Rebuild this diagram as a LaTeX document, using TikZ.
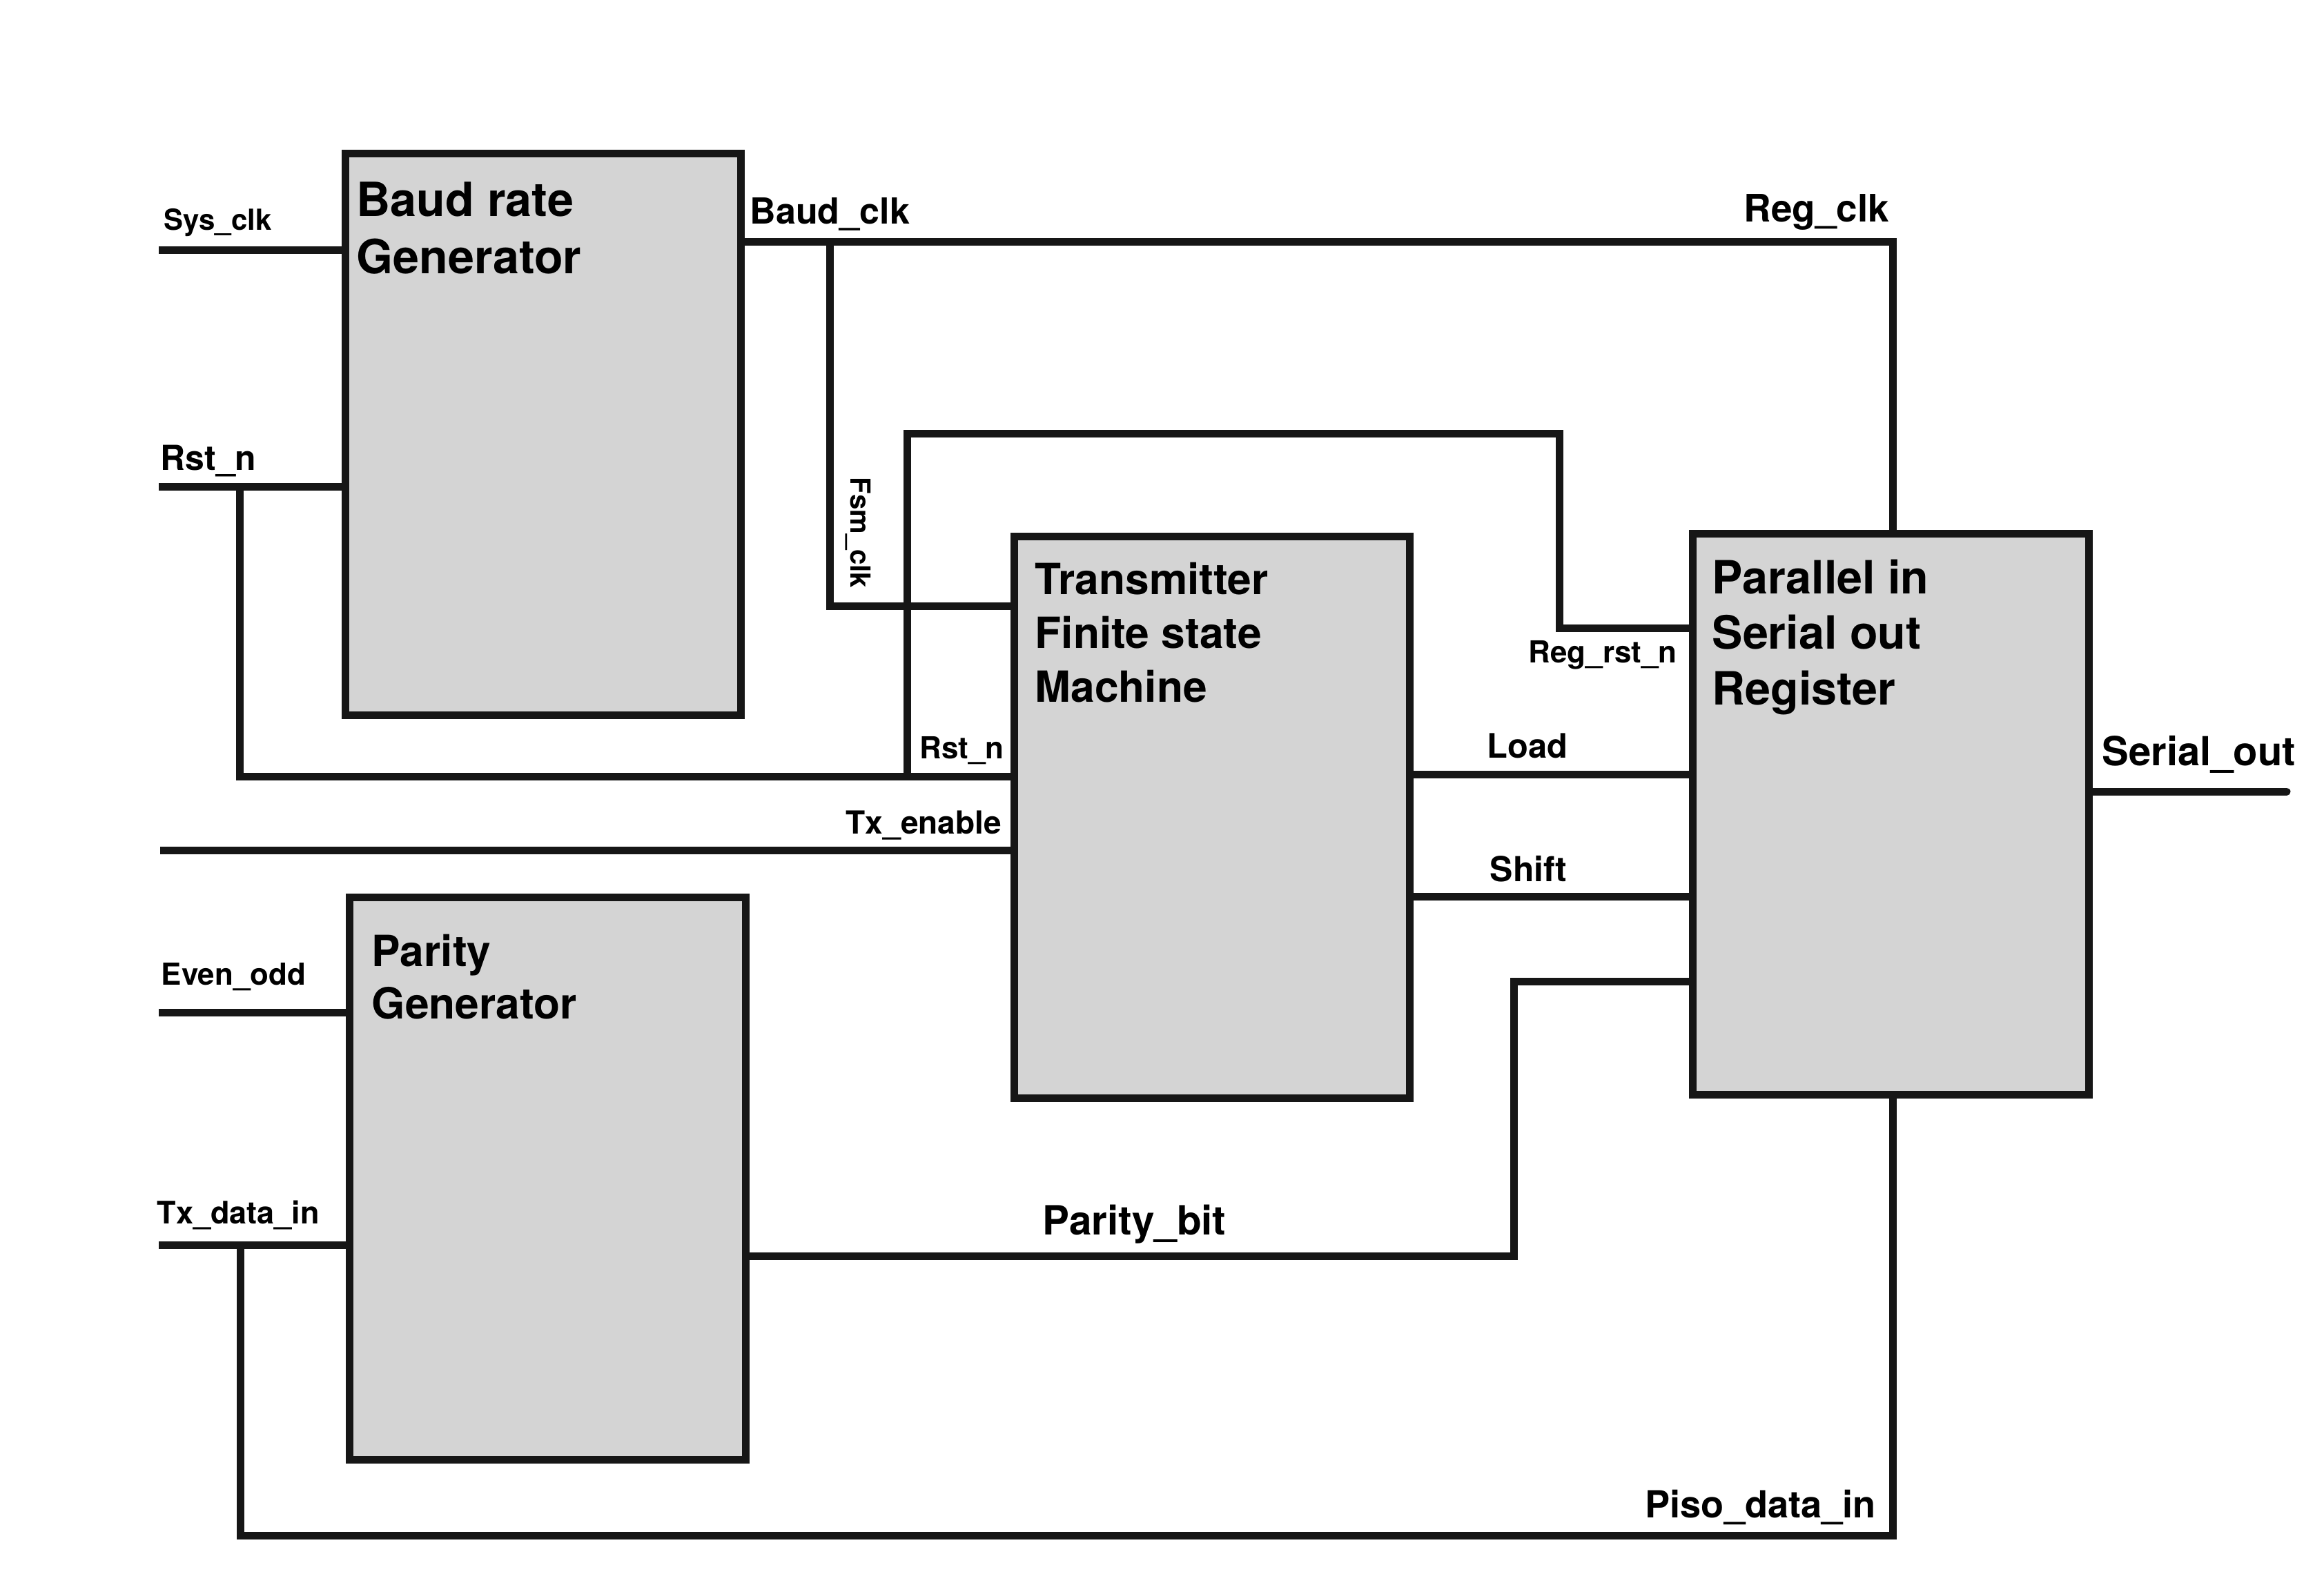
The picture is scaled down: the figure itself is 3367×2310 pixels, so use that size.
\documentclass[tikz,border=0pt]{standalone}
\usepackage{fontspec}
\setmainfont{TeX Gyre Heros}
\definecolor{boxgray}{HTML}{D4D4D4}
\definecolor{ink}{HTML}{161616}
\begin{document}
\begin{tikzpicture}[x=0.1mm,y=-0.1mm,
  wire/.style={draw=ink, line width=1.1mm},
  block/.style={draw=ink, fill=boxgray, line width=1.1mm, inner sep=0pt, rectangle},
  lbl/.style={anchor=base west, inner sep=0pt, text=black, font=\bfseries\fontsize{#1pt}{#1pt}\selectfont},
  ttl/.style 2 args={anchor=base west, inner sep=0pt, text=black, font=\bfseries\fontsize{#1pt}{#2pt}\selectfont}]
\useasboundingbox (0,0) rectangle (3367,2310);

% blocks
\node[block, minimum width=57.3mm, minimum height=81.4mm] (baud) at (786.5,629) {};
\node[block, minimum width=57.4mm, minimum height=81.5mm] (parity) at (793,1707.5) {};
\node[block, minimum width=57.3mm, minimum height=81.4mm] (fsm) at (1755.5,1184) {};
\node[block, minimum width=57.4mm, minimum height=81.3mm] (piso) at (2739,1179.5) {};

% titles
\node[ttl={19.4}{23.8}] (baudT) at (516,313) {\begin{tabular}[t]{@{}l@{}}Baud rate\\Generator\end{tabular}};
\node[ttl={17.7}{21.9}] (parityT) at (538,1400) {\begin{tabular}[t]{@{}l@{}}Parity\\Generator\end{tabular}};
\node[ttl={17.7}{22.2}] (fsmT) at (1499,861) {\begin{tabular}[t]{@{}l@{}}Transmitter\\Finite state\\Machine\end{tabular}};
\node[ttl={18.9}{23}] (pisoT) at (2480,860) {\begin{tabular}[t]{@{}l@{}}Parallel in\\Serial out\\Register\end{tabular}};

% coordinates
\coordinate (sysIn) at (230,362);
\coordinate (rstIn) at (230,705);
\coordinate (rstJ) at (347,705);
\coordinate (rstK) at (1314,1125);
\coordinate (regrstA) at (2259,628);
\coordinate (regrstB) at (2259,910);
\coordinate (regclkC) at (2742,350);
\coordinate (fsmJ) at (1202,350);
\coordinate (fsmclkY) at (1469,878);
\coordinate (txenIn) at (232,1232);
\coordinate (loadY) at (2200,1122);
\coordinate (shiftY) at (2200,1299);
\coordinate (evenIn) at (230,1467);
\coordinate (txdIn) at (230,1804);
\coordinate (txdJ) at (348,1804);
\coordinate (pisoDataC) at (2742,2225);
\coordinate (pbC) at (2193,1820);
\coordinate (pbD) at (2193,1422);
\coordinate (soOut) at (3313,1147);

% wires
\draw[wire] (sysIn) -- (sysIn -| baud.west);
\draw[wire] (rstIn) -- (rstIn -| baud.west);
\draw[wire] (rstJ) |- (rstK -| fsm.west);
\draw[wire] (rstK) |- (regrstA) |- (regrstB -| piso.west);
\draw[wire] (regclkC -| baud.east) -- (regclkC) -- (regclkC |- piso.north);
\draw[wire] (fsmJ) |- (fsmclkY -| fsm.west);
\draw[wire] (txenIn) -- (txenIn -| fsm.west);
\draw[wire] (loadY -| fsm.east) -- (loadY -| piso.west);
\draw[wire] (shiftY -| fsm.east) -- (shiftY -| piso.west);
\draw[wire] (evenIn) -- (evenIn -| parity.west);
\draw[wire] (txdIn) -- (txdIn -| parity.west);
\draw[wire] (txdJ) |- (pisoDataC) -- (pisoDataC |- piso.south);
\draw[wire] (pbC -| parity.east) -- (pbC) -- (pbD) -- (pbD -| piso.west);
\draw[wire, line cap=round] (soOut -| piso.east) -- (soOut);

% labels
\node[lbl=11.95] (lSys) at (237,333) {Sys\_clk};
\node[lbl=14.2] (lRst) at (232,681) {Rst\_n};
\node[lbl=14.8] (lBaud) at (1086,324) {Baud\_clk};
\node[lbl=15.6] (lReg) at (2526,321) {Reg\_clk};
\node[anchor=center, inner sep=0pt, rotate=-90, font=\bfseries\fontsize{11.4pt}{11.4pt}\selectfont] (lFsm) at (1243,772) {Fsm\_clk};
\node[lbl=12.5] (lRst2) at (1332,1099) {Rst\_n};
\node[lbl=13.1] (lTxen) at (1225,1208) {Tx\_enable};
\node[lbl=12.5] (lRegrst) at (2214,960) {Reg\_rst\_n};
\node[lbl=13.9] (lLoad) at (2154,1098) {Load};
\node[lbl=14.2] (lShift) at (2158,1277) {Shift};
\node[lbl=16.5] (lSer) at (3045,1109) {Serial\_out};
\node[lbl=12.5] (lEven) at (233,1427) {Even\_odd};
\node[lbl=12.8] (lTxd) at (227,1773) {Tx\_data\_in};
\node[lbl=16.6] (lPb) at (1510,1789) {Parity\_bit};
\node[lbl=15.4] (lPiso) at (2383,2199) {Piso\_data\_in};
\end{tikzpicture}
\end{document}
